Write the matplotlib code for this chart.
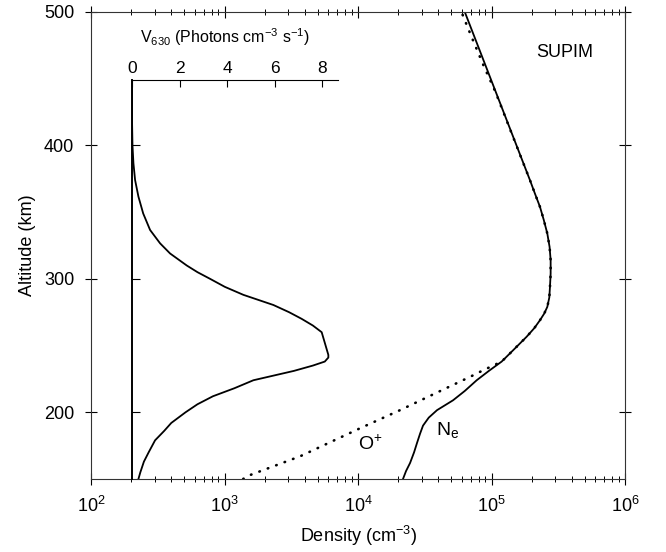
import numpy as np
import matplotlib
matplotlib.use("Agg")
import matplotlib.pyplot as plt
from matplotlib.ticker import LogLocator, NullFormatter, FixedLocator

plt.rcParams['font.family'] = ['Liberation Sans', 'DejaVu Sans']
plt.rcParams['mathtext.fontset'] = 'custom'
plt.rcParams['mathtext.rm'] = 'Liberation Sans'
plt.rcParams['mathtext.it'] = 'Liberation Sans'

# -- data (log10 of density)
ne_alt = [150, 156, 162, 170, 177, 184, 190, 196, 201.6, 209, 216, 224, 231, 238,
          246.6, 256.6, 263, 269, 274, 279, 286, 294, 304, 314, 324, 334, 344, 354,
          364, 374, 500]
ne_log = [4.337, 4.36, 4.39, 4.42, 4.442, 4.465, 4.487, 4.53, 4.592, 4.712, 4.80,
          4.889, 4.98, 5.076, 5.163, 5.263, 5.32, 5.363, 5.395, 5.418, 5.433, 5.438,
          5.443, 5.443, 5.435, 5.418, 5.392, 5.363, 5.325, 5.288, 4.80]

op_alt = [150, 152, 167, 188, 201.6, 219, 226.6, 231.6, 238, 246.6, 256.6, 263, 269,
          274, 279, 286, 294, 304, 314, 324, 334, 344, 354, 364, 374, 440, 460, 481.5,
          500]
op_log = [3.14, 3.166, 3.566, 4.015, 4.315, 4.68, 4.84, 4.94, 5.076, 5.163, 5.263,
          5.32, 5.363, 5.395, 5.418, 5.433, 5.438, 5.443, 5.443, 5.435, 5.418, 5.392,
          5.363, 5.325, 5.288, 5.03, 4.94, 4.85, 4.775]

v_alt = [150, 155, 163, 170, 179, 186, 192, 200, 206, 212, 218, 224, 231, 235, 238,
         241, 243, 260, 265, 270, 275, 280.4, 288, 294, 300, 305, 310, 319, 326.6,
         336.6, 349, 361.6, 374, 386.6, 400, 420, 450]
v630 = [0.27, 0.35, 0.5, 0.7, 0.97, 1.35, 1.65, 2.25, 2.75, 3.4, 4.3, 5.1, 6.8, 7.6,
        8.1, 8.25, 8.25, 7.97, 7.6, 7.13, 6.6, 5.94, 4.68, 3.9, 3.28, 2.75, 2.3, 1.6,
        1.18, 0.76, 0.47, 0.27, 0.13, 0.06, 0.02, 0.0, 0.0]

ne = 10 ** np.array(ne_log)
op = 10 ** np.array(op_log)

fig = plt.figure(figsize=(6.66, 5.52), dpi=100)
ax = fig.add_axes([91/666, 1-479/552, 534/666, 467/552])

ax.plot(ne, ne_alt, color='black', lw=1.3)
ax.plot(op, op_alt, color='black', lw=1.9, linestyle=(0, (0.2, 3.2)),
        dash_capstyle='round')
ax.set_xscale('log')
ax.set_xlim(1e2, 1e6)
ax.set_ylim(150, 500)
ax.set_yticks([200, 300, 400, 500])
ax.xaxis.set_minor_locator(LogLocator(base=10, subs=np.arange(2, 10)))
ax.xaxis.set_minor_formatter(NullFormatter())
ax.tick_params(which='major', direction='inout', length=8, width=0.8,
               top=True, right=True, labelsize=13, pad=8)
ax.tick_params(which='minor', direction='inout', length=4, width=0.7,
               top=True, right=False)
ax.tick_params(axis='y', which='minor', left=False, right=False)
for s in ax.spines.values():
    s.set_linewidth(0.8)
    s.set_color('#333333')
ax.set_xlabel('Density (cm$^{-3}$)', fontsize=13, labelpad=6)
ax.set_ylabel('Altitude (km)', fontsize=13, labelpad=6)

ax.text(1.0e4, 176, 'O$^{+}$', fontsize=14, ha='left', va='center')
ax.text(3.85e4, 183, 'N$_{e}$', fontsize=14, ha='left', va='baseline')
ax.text(2.15e5, 466, 'SUPIM', fontsize=13, ha='left', va='baseline')

# inset V630 profile
ax2 = fig.add_axes([132/666, 1-479/552, 206/666, 399/552])
ax2.patch.set_alpha(0)
ax2.plot(v630, v_alt, color='black', lw=1.3)
ax2.set_xlim(0, 206/23.8)
ax2.set_ylim(150, 449)
ax2.spines['right'].set_visible(False)
ax2.spines['bottom'].set_visible(False)
ax2.spines['left'].set_linewidth(1.4)
ax2.spines['top'].set_linewidth(0.8)
ax2.xaxis.tick_top()
ax2.set_xticks([0, 2, 4, 6, 8])
ax2.yaxis.set_major_locator(FixedLocator([200, 300, 400]))
ax2.tick_params(axis='x', direction='in', length=5, width=0.8, labelsize=12.5, pad=3)
ax2.tick_params(axis='y', direction='in', length=6, width=0.8, labelleft=False)
fig.text(225/666, 1-37/552, 'V$_{630}$ (Photons cm$^{-3}$ s$^{-1}$)', fontsize=11.5,
         ha='center', va='center')

fig.savefig('out.png', dpi=100)
